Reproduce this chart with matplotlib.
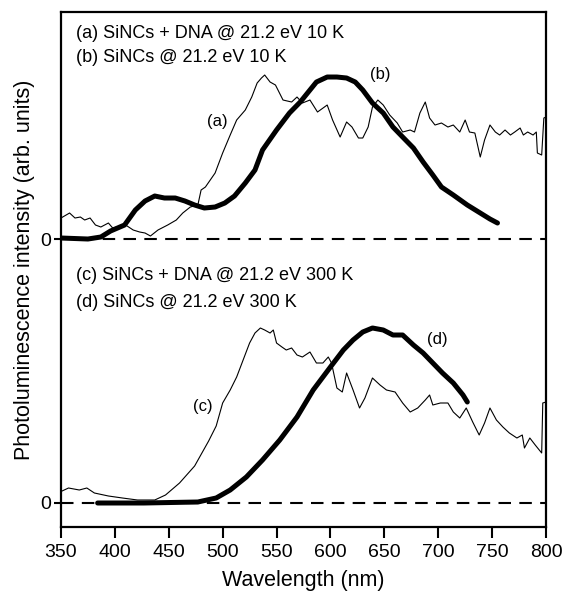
import numpy as np
import matplotlib
matplotlib.use('Agg')
import matplotlib.pyplot as plt

plt.rcParams['font.family'] = ['Liberation Sans', 'DejaVu Sans']

# ---------------------------------------------------------------------
# Data (wavelength in nm, intensity in arb. units)
# upper pair (10 K) is drawn with a vertical offset
# ---------------------------------------------------------------------
OFFSET = 2.64

# (a) SiNCs + DNA, 10 K
wl_a = [350, 358, 363, 368, 372, 377, 382, 387, 394, 398, 405, 410, 417, 423,
        428, 433, 440, 449, 457, 463, 470, 477, 480, 484, 493, 500, 507, 513,
        521, 527, 532, 536, 539, 544, 549, 556, 564, 569, 574, 581, 588, 597,
        602, 609, 615, 620, 626, 630, 635, 639, 644, 649, 655, 662, 667, 674,
        678, 683, 688, 692, 697, 703, 709, 714, 720, 725, 729, 734, 739, 743,
        748, 753, 757, 762, 767, 771, 776, 779, 783, 788, 791, 792, 796, 798,
        800]
pl_a = [0.21, 0.26, 0.21, 0.22, 0.19, 0.21, 0.14, 0.12, 0.16, 0.11, 0.13, 0.14,
        0.09, 0.07, 0.06, 0.03, 0.09, 0.14, 0.19, 0.26, 0.32, 0.34, 0.49, 0.52,
        0.66, 0.86, 1.04, 1.19, 1.29, 1.42, 1.56, 1.61, 1.64, 1.57, 1.54, 1.39,
        1.37, 1.42, 1.36, 1.39, 1.27, 1.34, 1.19, 1.02, 1.17, 1.12, 1.01, 1.01,
        1.12, 1.32, 1.39, 1.34, 1.24, 1.16, 1.07, 1.09, 1.07, 1.26, 1.37, 1.21,
        1.14, 1.16, 1.12, 1.14, 1.07, 1.19, 1.07, 1.06, 0.82, 0.99, 1.14, 1.07,
        1.04, 1.09, 1.04, 1.07, 1.11, 1.04, 1.07, 1.04, 1.07, 0.86, 0.84, 1.21,
        1.22]

# (b) SiNCs, 10 K
wl_b = [350, 375, 387, 396, 409, 419, 428, 437, 446, 456, 465, 474, 483, 493,
        502, 511, 521, 530, 537, 550, 562, 572, 581, 587, 597, 606, 615, 623,
        630, 639, 649, 658, 667, 677, 686, 695, 703, 714, 727, 739, 748, 755]
pl_b = [0.01, 0.00, 0.02, 0.08, 0.14, 0.29, 0.38, 0.43, 0.41, 0.41, 0.38, 0.34,
        0.31, 0.32, 0.36, 0.43, 0.56, 0.69, 0.89, 1.09, 1.26, 1.37, 1.49, 1.57,
        1.62, 1.62, 1.61, 1.57, 1.49, 1.36, 1.26, 1.12, 1.02, 0.91, 0.77, 0.64,
        0.52, 0.44, 0.34, 0.26, 0.20, 0.16]

# (c) SiNCs + DNA, 300 K
wl_c = [351, 357, 367, 374, 381, 394, 407, 421, 437, 447, 460, 474, 487, 494,
        500, 507, 513, 519, 525, 530, 535, 539, 544, 547, 550, 555, 559, 564,
        569, 574, 581, 587, 593, 598, 601, 606, 611, 615, 621, 627, 632, 639,
        646, 652, 660, 667, 674, 681, 688, 692, 695, 702, 709, 714, 720, 726,
        732, 738, 743, 748, 754, 760, 766, 773, 778, 780, 785, 790, 796, 797,
        800]
pl_c = [0.12, 0.15, 0.13, 0.15, 0.10, 0.07, 0.05, 0.03, 0.03, 0.08, 0.20, 0.37,
        0.62, 0.77, 1.00, 1.13, 1.26, 1.43, 1.60, 1.70, 1.75, 1.73, 1.70, 1.73,
        1.60, 1.56, 1.53, 1.55, 1.48, 1.46, 1.51, 1.40, 1.40, 1.46, 1.40, 1.15,
        1.11, 1.30, 1.13, 0.95, 1.05, 1.25, 1.18, 1.13, 1.11, 1.00, 0.91, 0.95,
        1.03, 1.08, 0.98, 1.00, 1.00, 0.91, 0.85, 0.95, 0.81, 0.68, 0.80, 0.95,
        0.83, 0.76, 0.70, 0.65, 0.68, 0.55, 0.65, 0.58, 0.50, 1.00, 1.01]

# (d) SiNCs, 300 K
wl_d = [384, 427, 477, 494, 507, 522, 537, 553, 569, 584, 600, 612, 621, 630,
        639, 649, 658, 667, 677, 686, 695, 704, 714, 723, 727]
pl_d = [0.00, 0.00, 0.01, 0.05, 0.13, 0.26, 0.43, 0.63, 0.86, 1.13, 1.36, 1.53,
        1.63, 1.71, 1.75, 1.73, 1.68, 1.68, 1.58, 1.50, 1.40, 1.30, 1.20, 1.08,
        1.01]

legend_top = ['(a) SiNCs + DNA @ 21.2 eV 10 K', '(b) SiNCs @ 21.2 eV 10 K']
legend_bot = ['(c) SiNCs + DNA @ 21.2 eV 300 K', '(d) SiNCs @ 21.2 eV 300 K']
xticks = [350, 400, 450, 500, 550, 600, 650, 700, 750, 800]

# ---------------------------------------------------------------------
fig = plt.figure(figsize=(5.63, 5.92), dpi=100)
ax = fig.add_axes([0.1083, 0.1098, 0.8615, 0.8699])

thin = dict(color='black', lw=0.8)
bold = dict(color='black', lw=3.6, solid_joinstyle='round', solid_capstyle='round')

ax.plot(wl_a, np.array(pl_a) + OFFSET, **thin)
ax.plot(wl_b, np.array(pl_b) + OFFSET, **bold)
ax.plot(wl_c, pl_c, **thin)
ax.plot(wl_d, pl_d, **bold)

for y0 in (0, OFFSET):
    ax.axhline(y0, color='black', lw=1.5, ls=(0, (6, 4)), zorder=0)

# curve labels
ax.text(495, OFFSET + 1.18, '(a)', fontsize=12, ha='center', va='center')
ax.text(646, OFFSET + 1.65, '(b)', fontsize=12, ha='center', va='center')
ax.text(482, 0.97, '(c)', fontsize=12, ha='center', va='center')
ax.text(699, 1.64, '(d)', fontsize=12, ha='center', va='center')

# condition text
ax.text(364, 4.70, legend_top[0], fontsize=13, va='center')
ax.text(364, 4.46, legend_top[1], fontsize=13, va='center')
ax.text(364, 2.28, legend_bot[0], fontsize=13, va='center')
ax.text(364, 2.01, legend_bot[1], fontsize=13, va='center')

ax.set_xlim(350, 800)
ax.set_ylim(-0.24, 4.91)
ax.set_xticks(xticks)
ax.set_yticks([0, OFFSET])
ax.set_yticklabels(['0', '0'])
ax.tick_params(axis='both', direction='out', width=1.5, labelsize=14)
ax.tick_params(axis='x', length=8, pad=4)
ax.tick_params(axis='y', length=5, pad=2)
for s in ax.spines.values():
    s.set_linewidth(1.6)

ax.set_xlabel('Wavelength (nm)', fontsize=15.5, labelpad=7)
ax.set_ylabel('Photoluminescence intensity (arb. units)', fontsize=15.5, labelpad=4)

fig.savefig('out.png', dpi=100)
